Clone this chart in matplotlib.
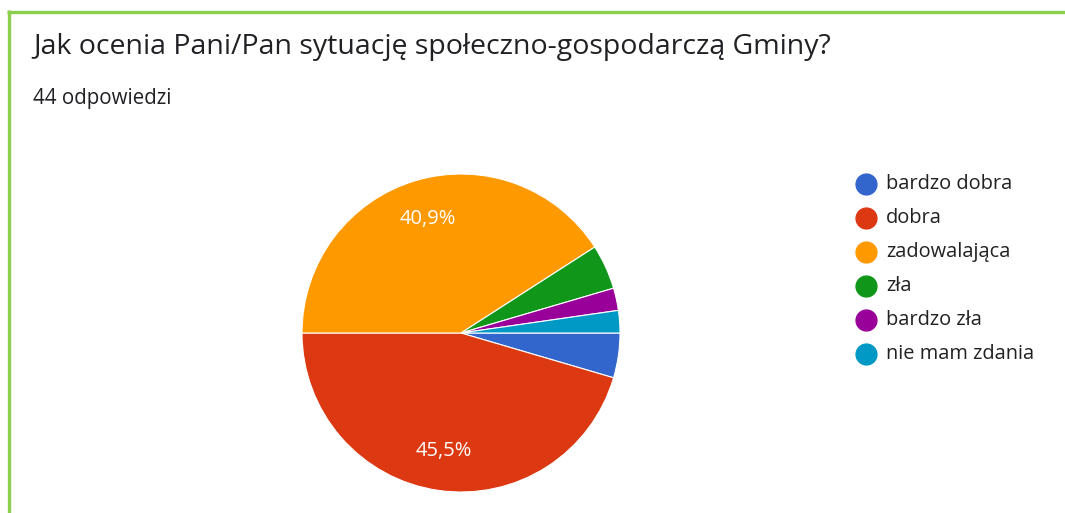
import matplotlib
matplotlib.use("Agg")
import matplotlib.pyplot as plt
from matplotlib.lines import Line2D

labels = ["bardzo dobra", "dobra", "zadowalająca", "zła", "bardzo zła", "nie mam zdania"]
counts = [2, 20, 18, 2, 1, 1]
colors = ["#3366cc", "#dc3912", "#ff9900", "#109618", "#990099", "#0099c6"]

title = "Jak ocenia Pani/Pan sytuację społeczno-gospodarczą Gminy?"
subtitle = "44 odpowiedzi"

W, H = 1065, 513
plt.rcParams["font.family"] = ["Open Sans", "DejaVu Sans"]
fig = plt.figure(figsize=(W / 100, H / 100), dpi=100)

# green card border (top and left)
green = "#8ccf4e"
fig.add_artist(Line2D([8.5 / W, 8.5 / W], [0, 1 - 10 / H], transform=fig.transFigure,
                      color=green, lw=2.4, solid_capstyle="butt"))
fig.add_artist(Line2D([7 / W, 1], [1 - 11.5 / H, 1 - 11.5 / H], transform=fig.transFigure,
                      color=green, lw=2.4, solid_capstyle="butt"))

fig.text(33 / W, 1 - 47 / H, title, fontsize=20.5, color="#202124", va="center", ha="left")
fig.text(33 / W, 1 - 99 / H, subtitle, fontsize=14.8, color="#202124", va="center", ha="left")

# pie
cx, cy, r = 461, 333, 159
ax = fig.add_axes([(cx - r) / W, (H - cy - r) / H, 2 * r / W, 2 * r / H])


def fmt(p):
    if p < 10:
        return ""
    return f"{p:.1f}".replace(".", ",") + "%"


wedges, _, autotexts = ax.pie(counts, colors=colors, startangle=0, counterclock=False,
                              autopct=fmt, pctdistance=0.75,
                              wedgeprops=dict(edgecolor="white", linewidth=0.8),
                              textprops=dict(color="white", fontsize=14.5))
ax.set_xlim(-1, 1)
ax.set_ylim(-1, 1)
ax.set_aspect("equal")
ax.axis("off")

# legend
ly0, dy = 184, 34
for i, (lab, col) in enumerate(zip(labels, colors)):
    y = 1 - (ly0 + i * dy) / H
    fig.add_artist(Line2D([866 / W], [y], marker="o", markersize=15, color=col,
                          transform=fig.transFigure, linestyle="none"))
    fig.text(886 / W, y, lab, fontsize=14.4, color="#222222", va="center", ha="left")

fig.savefig("out.png", dpi=100)
